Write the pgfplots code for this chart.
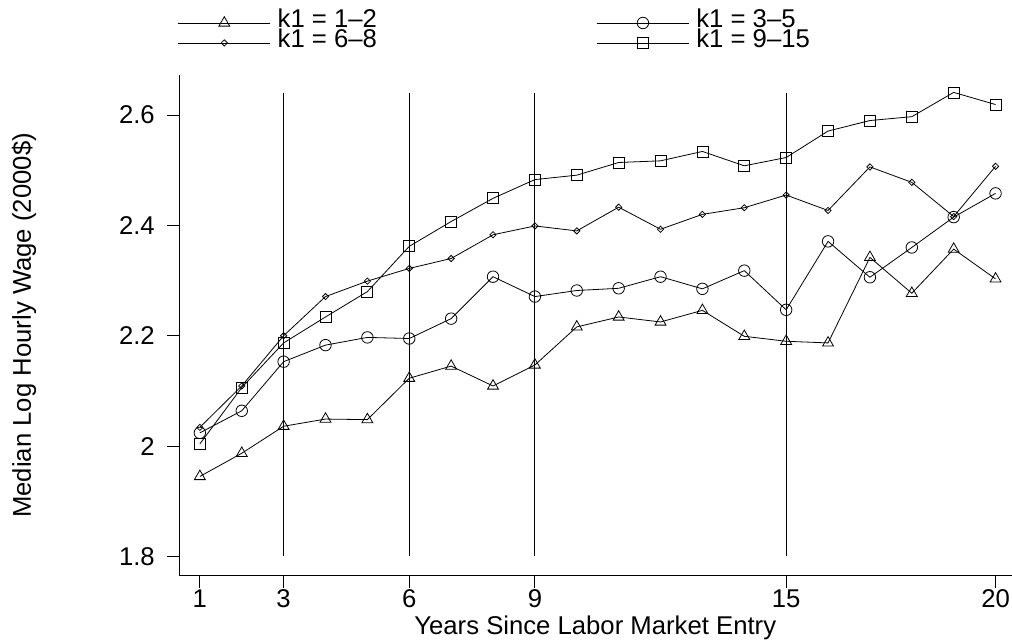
\documentclass[border=0pt]{standalone}
\usepackage{pgfplots}
\pgfplotsset{compat=1.18}
\usepackage{fontspec}
\setmainfont{Liberation Sans}
\begin{document}
\fontsize{25.8}{30}\selectfont
\begin{tikzpicture}
\begin{axis}[
  scale only axis, width=833bp, height=501bp,
  xmin=0.5, xmax=20.383, ymin=1.765, ymax=2.6726,
  axis x line=bottom, axis y line=left,
  axis line style={-, line width=0.8bp},
  xtick={1,3,6,9,15,20}, xticklabels={1,3,6,9,15,20},
  ytick={1.8,2,2.2,2.4,2.6}, yticklabels={1.8,2,2.2,2.4,2.6},
  tick align=outside, major tick length=12bp,
  tick style={line width=0.8bp, black},
  xticklabel style={inner sep=0pt, anchor=north, yshift=-2bp},
  yticklabel style={inner sep=0pt, anchor=east, xshift=-12bp},
  xlabel={Years Since Labor Market Entry},
  ylabel={Median Log Hourly Wage (2000\$)},
  xlabel style={at={(axis description cs:0.5,0)}, anchor=base, yshift=-59bp, inner sep=0pt},
  ylabel style={at={(axis description cs:-0.17767,0.5)}, anchor=base, inner sep=0pt},
  clip=false,
  legend columns=2,
  legend cell align=left,
  legend style={draw=none, fill=none, at={(axis description cs:0,1)}, anchor=south west,
    xshift=-1bp, yshift=22bp, inner sep=0pt, outer sep=0pt, row sep=0pt,
    nodes={inner sep=0pt, text height=15bp, text depth=5bp, anchor=west}},
  legend image code/.code={\draw[mark repeat=2,mark phase=2] plot coordinates {(0bp,0bp)(46bp,0bp)(92bp,0bp)};},
]
\addplot[black, line width=0.8bp, forget plot] coordinates {(3,1.8) (3,2.64)};
\addplot[black, line width=0.8bp, forget plot] coordinates {(6,1.8) (6,2.64)};
\addplot[black, line width=0.8bp, forget plot] coordinates {(9,1.8) (9,2.64)};
\addplot[black, line width=0.8bp, forget plot] coordinates {(15,1.8) (15,2.64)};

\addplot[black, line width=0.8bp, mark=triangle, mark size=6.3bp, mark options={solid, line width=0.8bp}] coordinates {
(1,1.945)(2,1.987)(3,2.036)(4,2.049)(5,2.048)(6,2.123)(7,2.145)(8,2.109)(9,2.147)(10,2.216)
(11,2.234)(12,2.225)(13,2.246)(14,2.199)(15,2.190)(16,2.187)(17,2.342)(18,2.277)(19,2.357)(20,2.303)};
\addlegendentry{\makebox[326bp][l]{\hspace*{7bp}k1 = 1--2}}

\addplot[black, line width=0.8bp, mark=o, mark size=5.75bp, mark options={solid, line width=0.8bp}] coordinates {
(1,2.024)(2,2.064)(3,2.153)(4,2.183)(5,2.197)(6,2.195)(7,2.231)(8,2.307)(9,2.271)(10,2.282)
(11,2.286)(12,2.307)(13,2.285)(14,2.318)(15,2.247)(16,2.371)(17,2.306)(18,2.360)(19,2.415)(20,2.458)};
\addlegendentry{\hspace*{7bp}k1 = 3--5}

\addplot[black, line width=0.8bp, mark=square, mark size=2.2bp, mark options={solid, rotate=45, line width=0.8bp}] coordinates {
(1,2.034)(2,2.109)(3,2.200)(4,2.271)(5,2.299)(6,2.322)(7,2.340)(8,2.383)(9,2.399)(10,2.390)
(11,2.433)(12,2.393)(13,2.420)(14,2.432)(15,2.455)(16,2.427)(17,2.506)(18,2.478)(19,2.416)(20,2.507)};
\addlegendentry{\makebox[326bp][l]{\hspace*{7bp}k1 = 6--8}}

\addplot[black, line width=0.8bp, mark=square, mark size=5.5bp, mark options={solid, line width=0.8bp}] coordinates {
(1,2.004)(2,2.106)(3,2.187)(4,2.234)(5,2.280)(6,2.362)(7,2.407)(8,2.449)(9,2.483)(10,2.491)
(11,2.514)(12,2.517)(13,2.534)(14,2.508)(15,2.523)(16,2.571)(17,2.590)(18,2.597)(19,2.641)(20,2.619)};
\addlegendentry{\hspace*{7bp}k1 = 9--15}
\end{axis}
\path[use as bounding box] ([shift={(-179bp,-64bp)}]current axis.south west) rectangle ([shift={(0bp,75bp)}]current axis.north east);
\end{tikzpicture}
\end{document}
